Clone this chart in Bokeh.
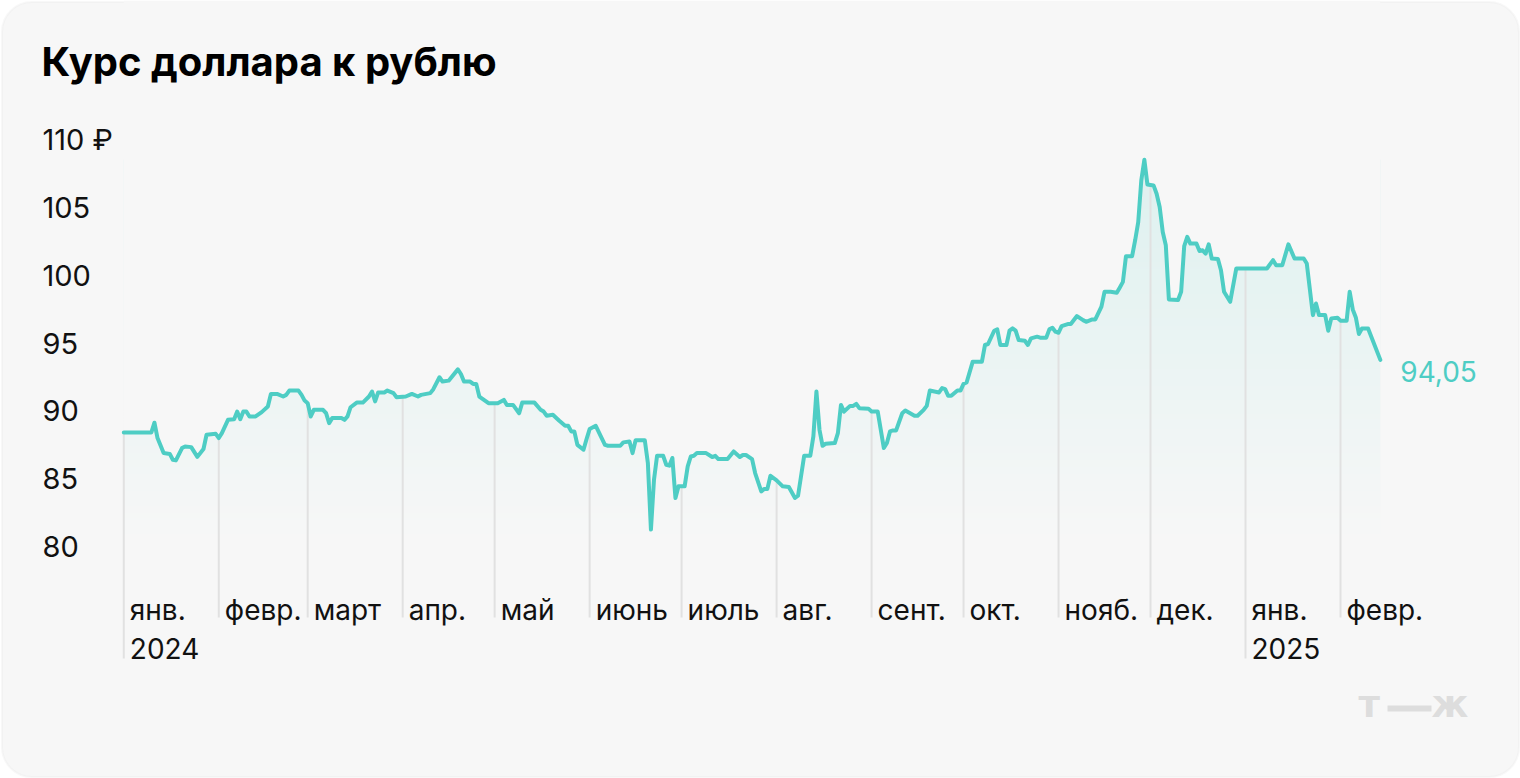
import numpy as np
import pandas as pd
from bokeh.plotting import figure
from bokeh.models import Range1d, BoxAnnotation
from bokeh.core.properties import value
from bokeh.embed import file_html
from bokeh.resources import INLINE

# ---------------- data ----------------
TITLE = "Курс доллара к рублю"

dates = [
    "2024-01-01", "2024-01-10", "2024-01-11", "2024-01-12", "2024-01-14", "2024-01-16", "2024-01-17",
    "2024-01-18", "2024-01-20", "2024-01-21", "2024-01-23", "2024-01-25", "2024-01-27", "2024-01-28",
    "2024-01-31", "2024-02-01", "2024-02-02", "2024-02-04", "2024-02-06", "2024-02-07", "2024-02-08",
    "2024-02-09", "2024-02-10", "2024-02-11", "2024-02-13", "2024-02-15", "2024-02-17", "2024-02-18",
    "2024-02-20", "2024-02-22", "2024-02-23", "2024-02-24", "2024-02-27", "2024-02-28", "2024-02-29",
    "2024-03-01", "2024-03-02", "2024-03-03", "2024-03-06", "2024-03-07", "2024-03-08", "2024-03-09",
    "2024-03-12", "2024-03-13", "2024-03-14", "2024-03-15", "2024-03-17", "2024-03-19", "2024-03-21",
    "2024-03-22", "2024-03-23", "2024-03-24", "2024-03-26", "2024-03-27", "2024-03-29", "2024-03-30",
    "2024-04-02", "2024-04-04", "2024-04-06", "2024-04-07", "2024-04-10", "2024-04-11", "2024-04-13",
    "2024-04-14", "2024-04-16", "2024-04-19", "2024-04-20", "2024-04-21", "2024-04-23", "2024-04-24",
    "2024-04-25", "2024-04-26", "2024-04-29", "2024-05-02", "2024-05-04", "2024-05-05", "2024-05-07",
    "2024-05-09", "2024-05-10", "2024-05-14", "2024-05-16", "2024-05-17", "2024-05-18", "2024-05-20",
    "2024-05-22", "2024-05-24", "2024-05-25", "2024-05-26", "2024-05-27", "2024-05-28", "2024-05-30",
    "2024-05-31", "2024-06-01", "2024-06-03", "2024-06-06", "2024-06-07", "2024-06-11", "2024-06-12",
    "2024-06-14", "2024-06-15", "2024-06-16", "2024-06-19", "2024-06-20", "2024-06-21", "2024-06-22",
    "2024-06-23", "2024-06-25", "2024-06-26", "2024-06-27", "2024-06-28", "2024-06-29", "2024-06-30",
    "2024-07-02", "2024-07-03", "2024-07-04", "2024-07-05", "2024-07-06", "2024-07-09", "2024-07-11",
    "2024-07-12", "2024-07-13", "2024-07-16", "2024-07-18", "2024-07-20", "2024-07-21", "2024-07-22",
    "2024-07-24", "2024-07-25", "2024-07-27", "2024-07-28", "2024-07-29", "2024-07-30", "2024-08-01",
    "2024-08-03", "2024-08-05", "2024-08-07", "2024-08-08", "2024-08-09", "2024-08-10", "2024-08-12",
    "2024-08-13", "2024-08-14", "2024-08-15", "2024-08-16", "2024-08-17", "2024-08-20", "2024-08-21",
    "2024-08-22", "2024-08-23", "2024-08-25", "2024-08-26", "2024-08-27", "2024-08-28", "2024-08-31",
    "2024-09-01", "2024-09-03", "2024-09-05", "2024-09-06", "2024-09-07", "2024-09-08", "2024-09-09",
    "2024-09-11", "2024-09-12", "2024-09-15", "2024-09-16", "2024-09-18", "2024-09-19", "2024-09-20",
    "2024-09-23", "2024-09-24", "2024-09-25", "2024-09-26", "2024-09-27", "2024-09-29", "2024-09-30",
    "2024-10-01", "2024-10-02", "2024-10-04", "2024-10-07", "2024-10-08", "2024-10-09", "2024-10-11",
    "2024-10-12", "2024-10-13", "2024-10-15", "2024-10-16", "2024-10-17", "2024-10-18", "2024-10-19",
    "2024-10-21", "2024-10-22", "2024-10-23", "2024-10-25", "2024-10-26", "2024-10-28", "2024-10-29",
    "2024-10-30", "2024-10-31", "2024-11-01", "2024-11-02", "2024-11-04", "2024-11-05", "2024-11-07",
    "2024-11-09", "2024-11-10", "2024-11-12", "2024-11-13", "2024-11-15", "2024-11-16", "2024-11-18",
    "2024-11-20", "2024-11-21", "2024-11-22", "2024-11-23", "2024-11-25", "2024-11-26", "2024-11-27",
    "2024-11-28", "2024-11-29", "2024-11-30", "2024-12-02", "2024-12-03", "2024-12-04", "2024-12-05",
    "2024-12-06", "2024-12-07", "2024-12-10", "2024-12-11", "2024-12-12", "2024-12-13", "2024-12-14",
    "2024-12-16", "2024-12-17", "2024-12-18", "2024-12-19", "2024-12-20", "2024-12-21", "2024-12-23",
    "2024-12-24", "2024-12-25", "2024-12-27", "2024-12-29", "2025-01-08", "2025-01-10", "2025-01-11",
    "2025-01-13", "2025-01-15", "2025-01-17", "2025-01-20", "2025-01-21", "2025-01-23", "2025-01-24",
    "2025-01-25", "2025-01-27", "2025-01-28", "2025-01-29", "2025-01-31", "2025-02-01", "2025-02-03",
    "2025-02-04", "2025-02-05", "2025-02-06", "2025-02-07", "2025-02-08", "2025-02-10", "2025-02-14",
]

rates = [
    88.70, 88.70, 89.42, 88.29, 87.18, 87.12, 86.69,
    86.64, 87.55, 87.67, 87.62, 86.90, 87.48, 88.53,
    88.60, 88.29, 88.65, 89.63, 89.68, 90.24, 89.68,
    90.24, 90.24, 89.88, 89.88, 90.20, 90.61, 91.54,
    91.54, 91.35, 91.47, 91.79, 91.79, 91.47, 91.05,
    90.86, 89.88, 90.37, 90.37, 90.12, 89.39, 89.76,
    89.76, 89.63, 89.88, 90.56, 90.90, 90.90, 91.35,
    91.72, 90.99, 91.65, 91.65, 91.79, 91.60, 91.30,
    91.35, 91.54, 91.35, 91.47, 91.60, 91.89, 92.77,
    92.45, 92.52, 93.35, 93.01, 92.45, 92.45, 92.28,
    92.28, 91.35, 90.86, 90.86, 91.10, 90.73, 90.73,
    90.12, 90.90, 90.90, 90.37, 90.24, 89.93, 90.00,
    89.58, 89.19, 89.19, 88.78, 88.78, 87.79, 87.43,
    88.22, 88.95, 89.19, 87.79, 87.72, 87.72, 87.97,
    88.04, 87.18, 88.12, 88.12, 86.45, 81.54, 85.22,
    86.98, 86.98, 86.32, 86.25, 86.82, 83.87, 84.73,
    84.73, 86.20, 86.93, 86.98, 87.18, 87.18, 86.89,
    86.98, 86.74, 86.74, 87.30, 86.89, 87.04, 87.04,
    86.74, 85.71, 84.36, 84.54, 84.54, 85.51, 85.17,
    84.73, 84.68, 83.87, 84.04, 85.51, 86.98, 86.98,
    88.41, 91.72, 88.90, 87.72, 87.87, 87.92, 88.65,
    90.73, 90.24, 90.66, 90.66, 90.81, 90.49, 90.44,
    90.24, 90.24, 87.55, 87.92, 88.78, 88.85, 88.85,
    90.12, 90.32, 89.93, 89.93, 90.37, 90.66, 91.79,
    91.65, 91.97, 91.89, 91.40, 91.40, 91.79, 91.79,
    92.28, 92.38, 93.92, 93.92, 95.15, 95.22, 96.20,
    96.30, 95.15, 95.15, 96.20, 96.37, 96.20, 95.51,
    95.46, 95.15, 95.64, 95.76, 95.69, 95.69, 96.30,
    96.42, 96.13, 96.05, 96.54, 96.69, 96.69, 97.28,
    96.98, 96.86, 97.03, 97.03, 97.97, 99.07, 99.07,
    99.00, 99.39, 99.80, 101.69, 101.69, 102.87, 104.21,
    107.28, 108.80, 106.98, 106.91, 106.30, 105.32, 103.48,
    102.50, 98.51, 98.46, 99.07, 102.43, 103.12, 102.62,
    102.62, 102.08, 102.13, 101.89, 102.57, 101.52, 101.49,
    100.66, 99.07, 98.33, 100.79, 100.79, 101.40, 101.03,
    101.03, 102.57, 101.52, 101.52, 101.15, 97.35, 98.21,
    97.35, 97.35, 96.20, 97.11, 97.16, 96.94, 96.94,
    99.07, 97.77, 97.18, 95.96, 96.37, 96.37, 94.05,
]

month_starts = ["2024-01-01", "2024-02-01", "2024-03-01", "2024-04-01", "2024-05-01", "2024-06-01",
                "2024-07-01", "2024-08-01", "2024-09-01", "2024-10-01", "2024-11-01", "2024-12-01",
                "2025-01-01", "2025-02-01"]
month_labels = ["янв.", "февр.", "март", "апр.", "май", "июнь", "июль", "авг.", "сент.", "окт.",
                "нояб.", "дек.", "янв.", "февр."]
year_starts = ["2024-01-01", "2025-01-01"]
year_labels = ["2024", "2025"]

y_ticks = [80, 85, 90, 95, 100, 105, 110]
y_tick_labels = ["80", "85", "90", "95", "100", "105", "110 ₽"]

# ---------------- styling / layout ----------------
W, H = 1520, 778
BG = "#f7f7f7"
TEAL = "#4ecdc4"
GRID = "#e1e1e1"
FONT = "Inter"

# pixel anchors of the scales
PX_DATE0, PX_DATE1 = 123.3, 1340.0           # 2024-01-01 and 2025-02-01
PY_V110, PY_V80 = 143.0, 550.0               # screen y of 110 and 80

t = pd.to_datetime(dates)
t_ms = (t.astype("int64") // 10**6).to_numpy().astype(float)
v = np.array(rates)

d0 = pd.Timestamp("2024-01-01").value / 1e6
d1 = pd.Timestamp("2025-02-01").value / 1e6
ms_per_px = (d1 - d0) / (PX_DATE1 - PX_DATE0)
date_range = Range1d(d0 - PX_DATE0 * ms_per_px, d0 + (W - PX_DATE0) * ms_per_px)

ppu = (PY_V80 - PY_V110) / 30.0
val_range = Range1d(80 - (H - PY_V80) / ppu, 110 + PY_V110 / ppu)

p = figure(width=W, height=H, x_range=Range1d(0, W), y_range=Range1d(H, 0),
           output_backend="svg", toolbar_location=None, min_border=0,
           x_axis_location=None, y_axis_location=None)
p.grid.visible = False
p.outline_line_color = None
p.background_fill_color = "white"
p.border_fill_color = "white"
p.extra_x_ranges = {"date": date_range}
p.extra_y_ranges = {"val": val_range}

# card
card = BoxAnnotation(left=1.5, right=W - 1.5, top=1.5, bottom=H - 1.5,
                     fill_color=BG, fill_alpha=1, line_color="#e8e8e8", line_width=2,
                     border_radius=30, level="underlay")
p.add_layout(card)

# gradient under the line
GRAD_BOTTOM = 80.5
rows = 160
a = np.linspace(0.0, 0.15, rows)
bg_rgb = np.array([247, 247, 247], dtype=float)
teal_rgb = np.array([78, 205, 196], dtype=float)
img = np.zeros((rows, 2, 4), dtype=np.uint8)
for i in range(rows):
    c = bg_rgb * (1 - a[i]) + teal_rgb * a[i]
    img[i, :, 0:3] = np.round(c).astype(np.uint8)
    img[i, :, 3] = 255
img32 = img.view(dtype=np.uint32).reshape((rows, 2))
p.image_rgba(image=[img32], x=t_ms[0], y=GRAD_BOTTOM, dw=t_ms[-1] - t_ms[0],
             dh=v.max() - GRAD_BOTTOM, x_range_name="date", y_range_name="val")

# mask above the line
p.varea(x=t_ms, y1=v, y2=val_range.end, fill_color=BG, fill_alpha=1,
        x_range_name="date", y_range_name="val")

# vertical month lines (from the curve down through the labels)
m_ms = (pd.to_datetime(month_starts).astype("int64") // 10**6).to_numpy().astype(float)
m_top = np.interp(m_ms, t_ms, v)
year_ms = set((pd.to_datetime(year_starts).astype("int64") // 10**6).tolist())
GRID_BOTTOM_MONTH = 110 - (617 - PY_V110) / ppu
GRID_BOTTOM_YEAR = 110 - (658 - PY_V110) / ppu
m_bottom = [GRID_BOTTOM_YEAR if int(m) in year_ms else GRID_BOTTOM_MONTH for m in m_ms]
p.segment(x0=m_ms, y0=m_bottom, x1=m_ms, y1=m_top, line_color=GRID, line_width=2,
          x_range_name="date", y_range_name="val")

# the rate line
p.line(t_ms, v, line_color=TEAL, line_width=4, line_join="round", line_cap="round",
       x_range_name="date", y_range_name="val")

# end value label
p.text(x=[t_ms[-1]], y=[v[-1]], text=[f"{v[-1]:.2f}".replace(".", ",")],
       x_offset=20, y_offset=12, text_color=TEAL, text_font=value(FONT),
       text_font_size="28px", text_baseline="alphabetic", text_align="left",
       x_range_name="date", y_range_name="val")

# y tick labels
p.text(x=[42] * len(y_ticks), y=y_ticks, text=y_tick_labels, y_offset=-4,
       text_color="#111111", text_font=value(FONT), text_font_size="29px",
       text_baseline="alphabetic", text_align="left", y_range_name="val")

# x tick labels
p.text(x=m_ms, y=[609] * len(m_ms), text=month_labels, x_offset=6,
       text_color="#111111", text_font=value(FONT), text_font_size="28px",
       text_baseline="alphabetic", text_align="left", x_range_name="date")
y_ms = (pd.to_datetime(year_starts).astype("int64") // 10**6).to_numpy().astype(float)
p.text(x=y_ms, y=[648] * len(y_ms), text=year_labels, x_offset=6,
       text_color="#111111", text_font=value(FONT), text_font_size="28px",
       text_baseline="alphabetic", text_align="left", x_range_name="date")

# title
p.text(x=[41], y=[61], text=[TITLE], text_color="#000000", text_font=value(FONT),
       text_font_size="40px", text_font_style="bold", text_baseline="alphabetic",
       text_align="left")

# watermark (т — ж)
p.text(x=[1358], y=[704], text=["т"], text_color="#dddddd", text_font=value("DejaVu Sans"),
       text_font_size="37px", text_font_style="bold", text_baseline="alphabetic",
       text_align="left")
p.segment(x0=[1387], y0=[708], x1=[1431], y1=[708], line_color="#dddddd", line_width=6)
p.text(x=[1431], y=[704], text=["ж"], text_color="#dddddd", text_font=value("DejaVu Sans"),
       text_font_size="37px", text_font_style="bold", text_baseline="alphabetic",
       text_align="left")

open("out.html", "w").write(file_html(p, INLINE))
